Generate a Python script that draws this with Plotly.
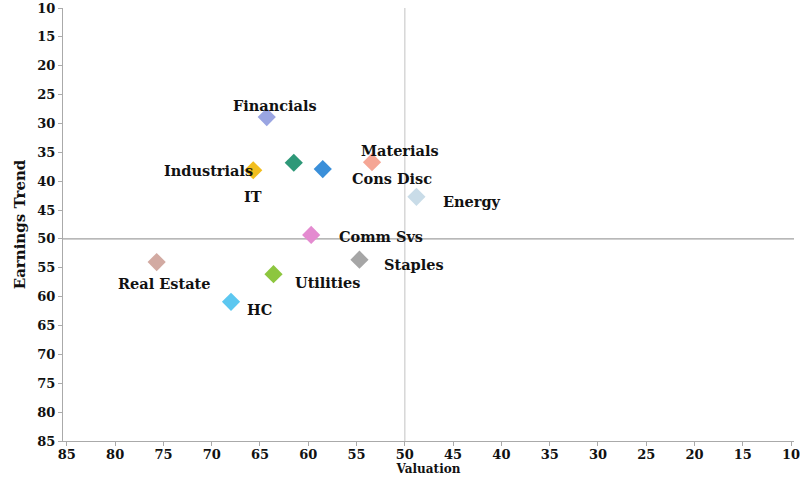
import plotly.graph_objects as go

sectors = ["Financials", "Industrials", "IT", "Cons Disc", "Materials", "Energy",
           "Comm Svs", "Staples", "Real Estate", "Utilities", "HC"]
valuation = [64.3, 65.7, 61.5, 58.5, 53.4, 48.8, 59.7, 54.7, 75.7, 63.6, 68.0]
earnings_trend = [28.9, 38.1, 36.8, 37.9, 36.7, 42.7, 49.3, 53.6, 54.0, 56.1, 60.9]
colors = ["#9AA5E2", "#F2BE1E", "#2E9878", "#3A8FD9", "#F5A695", "#C9DCE8",
          "#E48BD0", "#A6A6A6", "#D2AAA2", "#8DC63F", "#5CC7F0"]
ticks = [85, 80, 75, 70, 65, 60, 55, 50, 45, 40, 35, 30, 25, 20, 15, 10]

# label offsets in pixels (layout only)
label_offsets = {
    "Financials": (8, 12), "Industrials": (-45, 0), "IT": (-41, -34),
    "Cons Disc": (69, -9), "Materials": (28, 12), "Energy": (56, -5),
    "Comm Svs": (70, -2), "Staples": (55, -5), "Real Estate": (7, -21),
    "Utilities": (54, -8), "HC": (28, -8),
}

FONT = "DejaVu Serif"

fig = go.Figure()
fig.add_trace(go.Scatter(
    x=valuation, y=earnings_trend, mode="markers",
    marker=dict(symbol="diamond", size=14, color=colors, line=dict(width=0)),
    text=sectors, hoverinfo="text", showlegend=False,
))

for name, xv, yv in zip(sectors, valuation, earnings_trend):
    dx, dy = label_offsets[name]
    fig.add_annotation(x=xv, y=yv, text=name, showarrow=False,
                       xshift=dx, yshift=dy,
                       font=dict(family=FONT, size=14.5, color="#111111", weight="bold"))

fig.add_shape(type="line", xref="x", yref="paper", x0=50, x1=50, y0=0, y1=1,
              line=dict(color="#CCCCCC", width=1.2), layer="below")
fig.add_shape(type="line", xref="paper", yref="y", x0=0, x1=1, y0=50, y1=50,
              line=dict(color="#A0A0A0", width=1.2), layer="below")

fig.update_xaxes(range=[85.4, 9.7], tickvals=ticks, showgrid=False, zeroline=False,
                 showline=True, linecolor="#AAAAAA", linewidth=1,
                 ticks="outside", ticklen=4, tickcolor="#AAAAAA",
                 ticklabeloverflow="allow", ticklabelstandoff=-3,
                 tickfont=dict(family=FONT, size=13, color="#111111", weight="bold"),
                 title=dict(text="Valuation", standoff=1,
                            font=dict(family=FONT, size=12, color="#111111", weight="bold")))
fig.update_yaxes(range=[85, 10], tickvals=ticks, showgrid=False, zeroline=False,
                 showline=True, linecolor="#AAAAAA", linewidth=1,
                 ticks="outside", ticklen=4, tickcolor="#AAAAAA",
                 tickfont=dict(family=FONT, size=13, color="#111111", weight="bold"),
                 title=dict(text="Earnings Trend", standoff=8,
                            font=dict(family=FONT, size=15, color="#111111", weight="bold")))

fig.update_layout(width=800, height=477, margin=dict(l=63, r=0, t=8, b=36),
                  paper_bgcolor="white", plot_bgcolor="white")

fig.write_html("out.html")
